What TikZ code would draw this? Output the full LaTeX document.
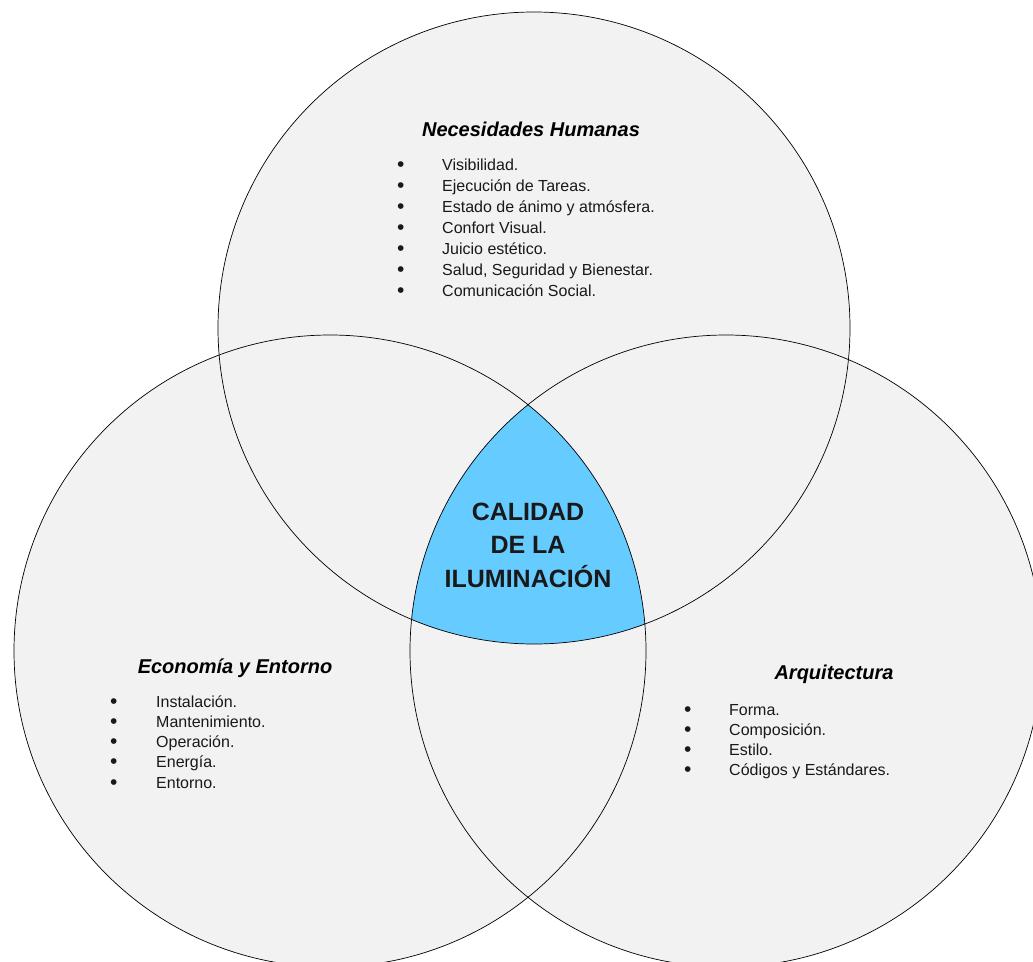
\documentclass[tikz,border=0pt]{standalone}
\usepackage{fontspec}
\setmainfont{Liberation Sans}
\usepackage{xcolor}
\definecolor{ringgray}{HTML}{F2F2F2}
\definecolor{calidadblue}{HTML}{66CCFF}
\newcommand{\itembullet}{{\fontsize{21}{21}\selectfont\raisebox{-1pt}{\textbullet}}}

\tikzset{
  ring/.style={circle, draw=black, line width=0.7pt, minimum size=632pt, inner sep=0pt, outer sep=0pt},
  heading/.style={anchor=base, inner sep=0pt, font=\fontsize{20}{24}\selectfont\bfseries\itshape},
  itemlist/.style={anchor=base west, inner sep=0pt, text=black!90, font=\fontsize{16}{21}\selectfont},
  calidad/.style={align=center, inner sep=0pt, text=black!90, font=\fontsize{25}{33.5}\selectfont\bfseries}
}

\begin{document}
\begin{tikzpicture}[x=1pt, y=-1pt]
\useasboundingbox (0,0) rectangle (1033,961);

\coordinate (cH) at (534,328);
\coordinate (cE) at (330,651);
\coordinate (cA) at (726,651);

\fill[ringgray] (cH) circle[radius=316pt] (cE) circle[radius=316pt] (cA) circle[radius=316pt];

\begin{scope}
\clip (cE) circle[radius=316pt];
\clip (cA) circle[radius=316pt];
\fill[calidadblue] (cH) circle[radius=316pt];
\end{scope}

\node[ring] (humanas) at (cH) {};
\node[ring] (economia) at (cE) {};
\node[ring] (arquitectura) at (cA) {};

\node[calidad] (calidadtxt) at (528,545) {CALIDAD\\DE LA\\ILUMINACIÓN};

\node[heading] (humanastitle) at (531,136) {Necesidades Humanas};
\node[itemlist] (humanaslist) at (397,170) {\begin{tabular}[t]{@{}p{45pt}@{}l@{}}
\itembullet & Visibilidad.\\
\itembullet & Ejecución de Tareas.\\
\itembullet & Estado de ánimo y atmósfera.\\
\itembullet & Confort Visual.\\
\itembullet & Juicio estético.\\
\itembullet & Salud, Seguridad y Bienestar.\\
\itembullet & Comunicación Social.
\end{tabular}};

\node[heading] (economiatitle) at (235,673) {Economía y Entorno};
\node[itemlist, font=\fontsize{16}{20.3}\selectfont] (economialist) at (110,707) {\begin{tabular}[t]{@{}p{46pt}@{}l@{}}
\itembullet & Instalación.\\
\itembullet & Mantenimiento.\\
\itembullet & Operación.\\
\itembullet & Energía.\\
\itembullet & Entorno.
\end{tabular}};

\node[heading] (arquitecturatitle) at (834,679) {Arquitectura};
\node[itemlist, font=\fontsize{16}{20.3}\selectfont] (arquitecturalist) at (684,715) {\begin{tabular}[t]{@{}p{45pt}@{}l@{}}
\itembullet & Forma.\\
\itembullet & Composición.\\
\itembullet & Estilo.\\
\itembullet & Códigos y Estándares.
\end{tabular}};
\end{tikzpicture}
\end{document}
